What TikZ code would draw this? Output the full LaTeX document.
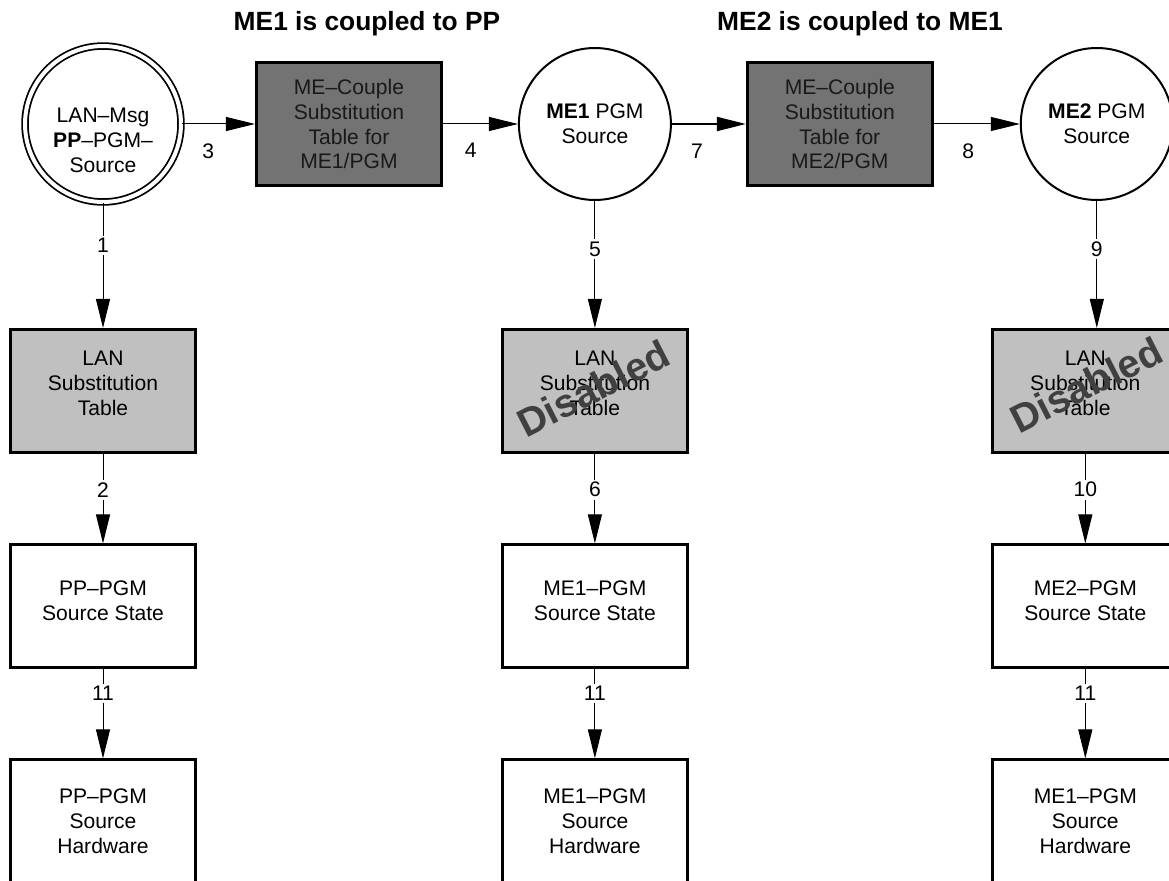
\documentclass[tikz,border=0pt]{standalone}
\usepackage{fontspec}
\setmainfont{Liberation Sans}
\usetikzlibrary{shapes,arrows.meta,positioning,calc}

\definecolor{couplegray}{RGB}{115,115,115}
\definecolor{substgray}{RGB}{192,192,192}
\definecolor{stampgray}{RGB}{64,64,64}

\tikzset{
    block/.style = {
        draw,
        fill=white,
        rectangle,
        line width=0.06cm,
        minimum height=2.46cm,
        minimum width=3.7cm,
        inner sep=0pt,
        align=center
    },
    couple/.style = {
        block,
        fill=couplegray,
        text=black!90
    },
    subst/.style = {
        block,
        fill=substgray,
        text depth=0.32cm
    },
    state/.style = {
        block,
        text depth=0.24cm
    },
    source/.style = {
        draw,
        fill=white,
        circle,
        line width=0.04cm,
        minimum size=3.04cm,
        inner sep=0pt,
        align=center
    },
    num/.style = {
        fill=white,
        inner sep=1.5pt
    },
    heading/.style = {
        font=\bfseries\fontsize{15}{18}\selectfont
    },
    stamp/.style = {
        font=\bfseries\fontsize{22.5}{22.5}\selectfont,
        text=stampgray,
        rotate=27
    }
}

\begin{document}
\begin{tikzpicture}[x=0.02cm, y=-0.02cm, >={Triangle[length=0.58cm,width=0.28cm]},
    every node/.style={font=\fontsize{12}{14.2}\selectfont}, line width=0.02cm]
    \useasboundingbox (0,0) rectangle (1169,881);

    % nodes
    \node [source,double,double distance=0.08cm,line width=0.035cm,minimum size=3.12cm] (pp) at (103,124) {};
    \node [align=center] (pptext) at (103,140) {LAN–Msg\\\textbf{PP}–PGM–\\Source};
    \node [couple,right of=pp,node distance=4.92cm] (couple1) {ME–Couple\\Substitution\\Table for\\ME1/PGM};
    \node [source,right of=couple1,node distance=4.92cm] (me1) {\textbf{ME1} PGM\\Source};
    \node [couple,right of=me1,node distance=4.9cm] (couple2) {ME–Couple\\Substitution\\Table for\\ME2/PGM};
    \node [source,right of=couple2,node distance=5.14cm] (me2) {\textbf{ME2} PGM\\Source};

    \node [subst,below of=pp,node distance=5.34cm] (lan1) {LAN\\Substitution\\Table};
    \node [state,below of=lan1,node distance=4.31cm] (state1) {PP–PGM\\Source State};
    \node [block,below of=state1,node distance=4.3cm] (hw1) {PP–PGM\\Source\\Hardware};

    \node [subst,below of=me1,node distance=5.34cm] (lan2) {LAN\\Substitution\\Table};
    \node [state,below of=lan2,node distance=4.31cm] (state2) {ME1–PGM\\Source State};
    \node [block,below of=state2,node distance=4.3cm] (hw2) {ME1–PGM\\Source\\Hardware};

    \node [subst,below of=me2,node distance=5.34cm,xshift=-0.23cm] (lan3) {LAN\\Substitution\\Table};
    \node [state,below of=lan3,node distance=4.31cm] (state3) {ME2–PGM\\Source State};
    \node [block,below of=state3,node distance=4.3cm] (hw3) {ME1–PGM\\Source\\Hardware};

    \node [stamp,yshift=0.06cm] (off2) at (lan2) {Disabled};
    \node [stamp,xshift=0.07cm,yshift=0.1cm] (off3) at (lan3) {Disabled};

    \node [heading] (title1) at (367,24) {ME1 is coupled to PP};
    \node [heading] (title2) at (860,24) {ME2 is coupled to ME1};

    % arrows
    \draw [->] (pp.east |- couple1.west) -- node[below=0.26cm,pos=0.36] {3} (couple1.west);
    \draw [->] (couple1.east) -- node[below=0.26cm,pos=0.37] {4} (couple1.east -| me1.west);
    \draw [->,line width=0.04cm] (me1.east |- couple2.west) -- node[below=0.26cm,pos=0.34] {7} (couple2.west);
    \draw [->] (couple2.east) -- node[below=0.26cm,pos=0.4] {8} (couple2.east -| me2.west);

    \draw [->] (pp.south) -- node[num,pos=0.34] {1} (lan1.north);
    \draw [->] (lan1) -- node[num,pos=0.4] {2} (state1);
    \draw [->] (state1) -- node[num,pos=0.27] {11} (hw1);

    \draw [->] (me1.south) -- node[num,pos=0.38] {5} (lan2.north);
    \draw [->] (lan2) -- node[num,pos=0.4] {6} (state2);
    \draw [->] (state2) -- node[num,pos=0.27] {11} (hw2);

    \draw [->] (me2.south) -- node[num,pos=0.38] {9} (me2.south |- lan3.north);
    \draw [->] (lan3) -- node[num,pos=0.4] {10} (state3);
    \draw [->] (state3) -- node[num,pos=0.27] {11} (hw3);
\end{tikzpicture}
\end{document}
